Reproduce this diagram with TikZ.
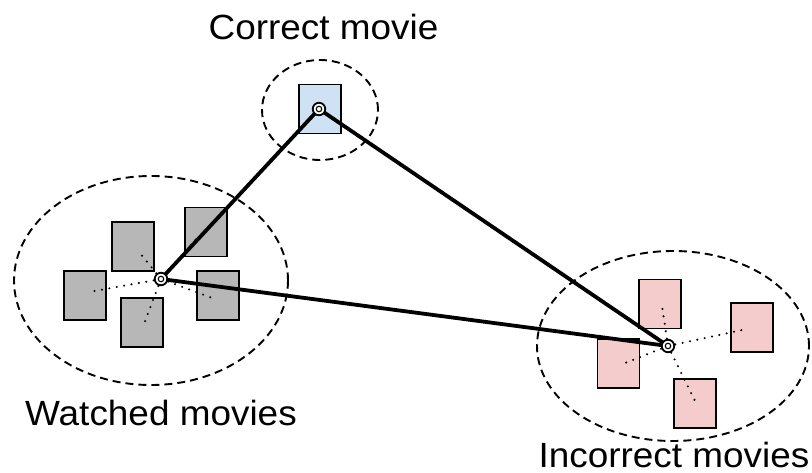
\documentclass[tikz,border=0pt]{standalone}
\usepackage{fontspec}
\setmainfont{Liberation Sans}
\usetikzlibrary{shapes.geometric}
\definecolor{wgray}{HTML}{B7B7B7}
\definecolor{ipink}{HTML}{F4CCCC}
\definecolor{cblue}{HTML}{CFE2F3}
\tikzset{
  group/.style={draw, ellipse, line width=1.9pt, dash pattern=on 8pt off 5pt, inner sep=0pt},
  movie/.style={draw, rectangle, line width=1.9pt, minimum width=42pt, minimum height=49pt, inner sep=0pt},
  wmovie/.style={movie, fill=wgray},
  imovie/.style={movie, fill=ipink},
  cmovie/.style={movie, fill=cblue},
  link/.style={line width=2.3pt, line cap=round, dash pattern=on 0pt off 7.5pt},
  dist/.style={line width=3.8pt},
  ctr/.style={circle, draw, fill=white, line width=1.8pt, minimum size=12.5pt, inner sep=0pt},
  ctrin/.style={circle, draw, line width=1.1pt, minimum size=5.5pt, inner sep=0pt},
  lbl/.style={font=\fontsize{35}{40}\selectfont, anchor=base, inner sep=0pt, xscale=1.055}
}
\begin{document}
\begin{tikzpicture}[x=1pt, y=-1pt]
\useasboundingbox (0,0) rectangle (812,473);
% groups
\node[group, minimum width=274pt, minimum height=209pt] (gw) at (151,280.5) {};
\node[group, minimum width=272pt, minimum height=190pt] (gi) at (673,346) {};
\node[group, minimum width=116pt, minimum height=100pt] (gc) at (320,110) {};
% watched movies
\node[wmovie] (w1) at (133,246.5) {};
\node[wmovie] (w2) at (206,232) {};
\node[wmovie] (w3) at (85,295.5) {};
\node[wmovie] (w4) at (218,295.5) {};
\node[wmovie] (w5) at (142,322.5) {};
% incorrect movies
\node[imovie] (i1) at (660,304) {};
\node[imovie] (i2) at (752,327.5) {};
\node[imovie] (i3) at (618.5,363.5) {};
\node[imovie] (i4) at (695,403.5) {};
% correct movie
\node[cmovie] (c1) at (320,109) {};
% points
\coordinate (wc) at (161,279);
\coordinate (ic) at (668,346);
\coordinate (cc) at (319,109);
\coordinate (pw1) at (140.7,254);
\coordinate (pw2) at (197,238);
\coordinate (pw3) at (89,292);
\coordinate (pw4) at (215,299);
\coordinate (pw5) at (144,324);
\coordinate (pi1) at (662,306);
\coordinate (pi2) at (747,329);
\coordinate (pi3) at (620,365);
\coordinate (pi4) at (696,403);
% dotted links
\foreach \p in {pw1,pw2,pw3,pw4,pw5} \draw[link] (wc) -- (\p);
\foreach \p in {pi1,pi2,pi3,pi4} \draw[link] (ic) -- (\p);
% distances
\draw[dist] (cc) -- (wc);
\draw[dist] (cc) -- (ic);
\draw[dist] (wc) -- (ic);
% centre markers
\foreach \c in {wc,ic,cc} {
  \node[ctr] (m\c) at (\c) {};
  \node[ctrin] at (\c) {};
}
% labels
\node[lbl] (tc) at (323.5,40) {Correct movie};
\node[lbl] (tw) at (161,425) {Watched movies};
\node[lbl] (ti) at (674,467) {Incorrect movies};
\end{tikzpicture}
\end{document}
